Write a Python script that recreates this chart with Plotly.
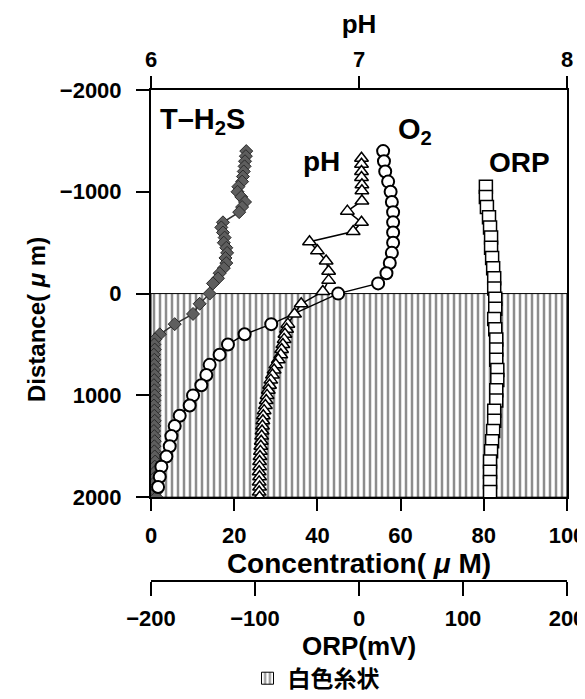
import plotly.graph_objects as go

# ---------------- data ----------------
# T-H2S (uM) vs distance (um)
h2s_depth = [-1400, -1350, -1300, -1250, -1200, -1150, -1100, -1050, -1000, -950, -900, -850, -800,
             -700, -650, -600, -550, -500, -450, -400, -350, -300, -250, -200, -150, -100, 0,
             100, 200, 300, 400,
             450, 500, 550, 600, 650, 700, 750, 800, 850, 900, 950, 1000, 1050, 1100, 1150, 1200,
             1250, 1300, 1350, 1400, 1450, 1500, 1550, 1600, 1650, 1700, 1750, 1800, 1850, 1900, 1950, 2000]
h2s_conc = [22.9, 22.8, 22.6, 22.5, 22.3, 22.1, 21.9, 21.0, 20.8, 21.7, 22.6, 21.9, 21.2,
            17.3, 16.9, 17.3, 17.7, 17.5, 18.1, 18.3, 17.9, 18.1, 17.5, 16.5, 16.1, 14.9, 14.1,
            11.7, 10.1, 5.7, 2.1,
            1.0, 0.8, 0.9, 0.7, 0.8, 0.8, 0.7, 0.9, 0.8, 0.7, 0.8, 0.9, 0.8, 0.7, 0.8, 0.8,
            0.9, 0.8, 0.7, 0.8, 0.9, 0.8, 0.8, 0.9, 1.0, 0.9, 1.0, 1.1, 1.0, 1.1, 1.2, 1.3]

# O2 (uM)
o2_depth = [-1400, -1300, -1200, -1100, -1000, -900, -800, -700, -600, -500, -400, -300, -200, -100,
            0, 300, 400, 500, 600, 700, 800, 900, 1000, 1100, 1200, 1300, 1400, 1500, 1600, 1700,
            1800, 1900]
o2_conc = [55.8, 56.0, 56.3, 57.0, 57.6, 57.9, 58.2, 58.2, 58.2, 58.2, 57.9, 57.4, 56.6, 54.6,
           45.0, 28.9, 22.5, 18.5, 16.5, 14.1, 13.3, 12.1, 10.1, 9.3, 6.9, 5.7, 4.9, 4.5, 3.7, 2.5,
           2.1, 1.7]

# pH
ph_depth = [-1330, -1270, -1200, -1140, -1070, -1010, -910, -810, -700, -610, -510, -420, -320,
            -220, -130, -20, 100, 200, 300,
            350, 400, 450, 500, 550, 600, 650, 700, 750, 800, 850, 900, 950, 1000, 1050, 1100,
            1150, 1200, 1250, 1300, 1350, 1400, 1450, 1500, 1550, 1600, 1650, 1700, 1750, 1800,
            1850, 1900, 1950, 2000]
ph_value = [7.012, 7.012, 7.012, 7.012, 7.014, 7.014, 7.014, 6.944, 7.012, 6.972, 6.762, 6.800, 6.842,
            6.854, 6.854, 6.826, 6.722, 6.690, 6.658,
            6.652, 6.644, 6.640, 6.634, 6.628, 6.624, 6.612, 6.600, 6.592, 6.584, 6.576, 6.570,
            6.564, 6.558, 6.554, 6.550, 6.544, 6.540, 6.538, 6.536, 6.534, 6.532, 6.530, 6.528,
            6.526, 6.524, 6.522, 6.522, 6.520, 6.522, 6.520, 6.522, 6.520, 6.522]

# ORP (mV)
orp_depth = [-1050, -950, -850, -750, -650, -550, -450, -350, -250, -150, -50, 50, 150, 250, 350,
             450, 550, 650, 750, 850, 950, 1050, 1150, 1250, 1350, 1450, 1550, 1650, 1750, 1850, 1950]
orp_mv = [122, 122, 123, 125, 126, 127, 127, 128, 129, 130, 130, 131, 131, 130, 131,
          132, 132, 132, 133, 133, 132, 132, 130, 130, 129, 128, 127, 126, 126, 126, 126]

# white filamentous mat layer (distance range, um) spanning the concentration axis
mat_depth = [0, 2000]
mat_conc = [0, 100]

# axes
conc_ticks = [0, 20, 40, 60, 80, 100]
ph_ticks = [6, 7, 8]
orp_ticks = [-200, -100, 0, 100, 200]
dist_ticks = [-2000, -1000, 0, 1000, 2000]

# ---------------- figure ----------------
FONT = "Liberation Sans, Arial, Noto Sans CJK JP, sans-serif"
BLACK = "black"

W, H = 585, 699
ML, MR, MT, MB = 143, 26, 82, 4
plot_h = H - MT - MB
y_dom_bottom = (H - MB - 498) / plot_h
orp_pos = (H - MB - 584) / plot_h

fig = go.Figure()

fig.add_trace(go.Bar(
    x=[mat_conc[1] - mat_conc[0]], base=[mat_conc[0]],
    y=[(mat_depth[0] + mat_depth[1]) / 2], width=[mat_depth[1] - mat_depth[0]],
    orientation="h", name="白色糸状",
    marker=dict(color="white", line=dict(color=BLACK, width=1),
                pattern=dict(shape="|", size=6, solidity=0.42, fgcolor="#1a1a1a", bgcolor="white")),
    hoverinfo="skip", showlegend=True,
))

fig.add_trace(go.Scatter(
    x=h2s_conc, y=h2s_depth, mode="lines+markers", name="T-H2S", showlegend=False,
    line=dict(color="#333333", width=1.5),
    marker=dict(symbol="diamond", size=10, color="#5e5e5e", line=dict(color="#2a2a2a", width=1)),
))
fig.add_trace(go.Scatter(
    x=o2_conc, y=o2_depth, mode="lines+markers", name="O2", showlegend=False,
    line=dict(color=BLACK, width=1.5),
    marker=dict(symbol="circle", size=12, color="white", line=dict(color=BLACK, width=2)),
))
fig.add_trace(go.Scatter(
    x=ph_value, y=ph_depth, xaxis="x2", mode="lines+markers", name="pH", showlegend=False,
    line=dict(color=BLACK, width=1.5),
    marker=dict(symbol="triangle-up", size=12, color="white", line=dict(color=BLACK, width=1.5)),
))
fig.add_trace(go.Scatter(
    x=orp_mv, y=orp_depth, xaxis="x3", mode="lines+markers", name="ORP", showlegend=False,
    line=dict(color=BLACK, width=1.5),
    marker=dict(symbol="square", size=13, color="white", line=dict(color=BLACK, width=1.5)),
))

tickfont = dict(family=FONT, size=22, color=BLACK, weight="bold")
titlefont = dict(family=FONT, size=26, color=BLACK, weight="bold")

common = dict(showgrid=False, zeroline=False, showline=True, linecolor=BLACK, linewidth=2,
              ticks="outside", tickcolor=BLACK, tickwidth=1.5, tickfont=tickfont)

fig.update_layout(
    width=W, height=H,
    margin=dict(l=ML, r=MR, t=MT, b=MB),
    paper_bgcolor="white", plot_bgcolor="white",
    font=dict(family=FONT, color=BLACK),
    barmode="overlay",
    xaxis=dict(range=[0, 100], tickvals=conc_ticks, ticklen=12, ticklabelstandoff=5,
               title=dict(text="Concentration( <i>μ</i> M)",
                          font=dict(family=FONT, size=28, color=BLACK, weight="bold"), standoff=2),
               anchor="y", **common),
    xaxis2=dict(range=[6, 8], tickvals=ph_ticks, ticklen=12, ticklabelstandoff=0,
                overlaying="x", side="top", anchor="y",
                title=dict(text="pH", font=titlefont, standoff=6), **common),
    xaxis3=dict(range=[-200, 200], tickvals=orp_ticks, ticklen=14, ticklabelstandoff=3,
                overlaying="x", side="bottom", anchor="free", position=orp_pos,
                title=dict(text="ORP(mV)", font=titlefont, standoff=6), **common),
    yaxis=dict(domain=[y_dom_bottom, 1], range=[2000, -2000], tickvals=dist_ticks,
               ticklen=13, ticklabelstandoff=10, mirror=True, **common),
    legend=dict(orientation="h", x=(308 - ML) / (W - ML - MR), xanchor="center",
                y=(H - MB - 683) / plot_h, yanchor="middle",
                bgcolor="rgba(0,0,0,0)",
                font=dict(family=FONT, size=23, color=BLACK, weight="bold")),
    annotations=[
        dict(text="Distance( <i>μ</i> m)", xref="paper", yref="paper",
             x=(28 - ML) / (W - ML - MR), y=(H - MB - 317) / plot_h,
             textangle=-90, showarrow=False, xanchor="center", yanchor="middle",
             font=dict(family=FONT, size=24, color=BLACK, weight="bold")),
        dict(text="T–H<sub>2</sub>S", xref="x", yref="y", x=1.7, y=-1692,
             xanchor="left", yanchor="middle", showarrow=False,
             font=dict(family=FONT, size=29, color=BLACK, weight="bold")),
        dict(text="pH", xref="x", yref="y", x=41.1, y=-1298,
             xanchor="center", yanchor="middle", showarrow=False,
             font=dict(family=FONT, size=28, color=BLACK, weight="bold")),
        dict(text="O<sub>2</sub>", xref="x", yref="y", x=58.9, y=-1596,
             xanchor="left", yanchor="middle", showarrow=False,
             font=dict(family=FONT, size=29, color=BLACK, weight="bold")),
        dict(text="ORP", xref="x", yref="y", x=88.6, y=-1288,
             xanchor="center", yanchor="middle", showarrow=False,
             font=dict(family=FONT, size=28, color=BLACK, weight="bold")),
    ],
)

fig.write_html("out.html")
